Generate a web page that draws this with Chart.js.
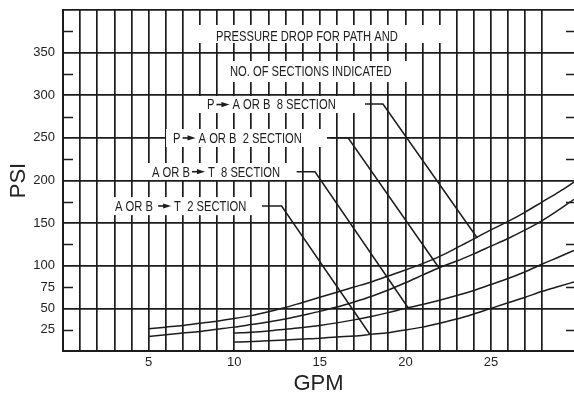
<!DOCTYPE html>
<html>
<head>
<meta charset="utf-8">
<script src="https://cdn.jsdelivr.net/npm/chart.js@4/dist/chart.umd.min.js"></script>
<style>
html, body { margin:0; padding:0; background:#fff; overflow:hidden; }
#wrap { width:574px; height:397px; }
</style>
</head>
<body>
<div id="wrap"><canvas id="mycanvas"></canvas></div>
<script>
// GPM values where the curves were read
var gpmP = [5,6,7,8,9,10,11,12,13,14,15,16,17,18,19,20,21,22,23,24,25,26,27,28,29,29.85];
var gpmT = [10,11,12,13,14,15,16,17,18,19,20,21,22,23,24,25,26,27,28,29,29.85];

// PSI for each path
var psiP8 = [26,28,30,32.5,35,38,41.5,46,51,57,63,69,75,81,88,95,102.5,111,121,131.5,142,152,163,175,187,198];
var psiP2 = [17,19,21,23,25.5,28,31,34,37.5,42,46.5,51.5,57.5,64,71.5,80,89,98,105.5,114,123,132,142,153,166,178];
var psiT8 = [21,22,23.5,25.5,27.5,30,33,36.5,40.5,45,50,54.5,59.5,65,71,78,85,93,102,110.5,118];
var psiT2 = [10.5,11,12,13,14,15,16.5,17.5,19.5,21.5,24.5,28,32.5,37.5,43.5,50,56.5,63,70,76,81];

// leader lines (GPM, PSI)
var lead1X = [17.64,18.69,24.2],  lead1Y = [289.7,289.7,132.5];
var lead2X = [15.6,16.65,21.96],  lead2Y = [250.2,250.2,97.6];
var lead3X = [13.65,14.72,20.15], lead3Y = [210.3,210.3,51];
var lead4X = [11.62,12.77,17.93], lead4Y = [170.1,170.1,19.4];

var yLabels = [25,50,75,100,150,200,250,300,350];
var xLabels = [5,10,15,20,25];

// text boxes: text anchor (gpm, psi) and white box [gpm0, gpm1, psiTop, psiBottom]
var notes = [
  {parts:["PRESSURE DROP FOR PATH AND"], at:[8.94,369.1], box:[7.54,22.43,382.4,361.3]},
  {parts:["NO. OF SECTIONS INDICATED"], at:[9.75,327.9], box:[9.29,20.5,340.2,315.5]},
  {parts:["P","A OR B  8 SECTION"], at:[8.41,289.1], box:[7.94,17.41,299.1,279.2]},
  {parts:["P","A OR B  2 SECTION"], at:[6.43,249.9], box:[6.02,15.42,260.4,239.3]},
  {parts:["A OR B","T  8 SECTION"], at:[5.2,210.3], box:[4.85,13.43,220.5,200.6]},
  {parts:["A OR B ","T  2 SECTION"], at:[3.04,170.1], box:[2.63,11.45,180.5,159.4]}
];

function pts(xs, ys) {
  return xs.map(function(x, i){ return {x:x, y:ys[i]}; });
}

var INK = '#1c1c1c';

function curve(xs, ys) {
  return {data: pts(xs, ys), showLine:true, borderColor:INK, borderWidth:1.5,
          pointRadius:0, cubicInterpolationMode:'monotone', fill:false};
}
function leader(xs, ys) {
  return {data: pts(xs, ys), showLine:true, borderColor:INK, borderWidth:1.5,
          pointRadius:0, tension:0, fill:false};
}

var extras = {
  id: 'extras',
  beforeDatasetsDraw: function(chart) {
    var ctx = chart.ctx, xs = chart.scales.x, ys = chart.scales.y, a = chart.chartArea;
    ctx.save();
    // short marks at the odd 25s, both sides
    ctx.strokeStyle = INK;
    ctx.lineWidth = 1.7;
    for (var v = 25; v < 400; v += 50) {
      var py = Math.round(ys.getPixelForValue(v)) + 0.5;
      ctx.beginPath();
      ctx.moveTo(a.left, py); ctx.lineTo(a.left + 10, py);
      ctx.moveTo(a.right - 8, py); ctx.lineTo(a.right, py);
      ctx.stroke();
    }
    // label boxes
    notes.forEach(function(n) {
      var x0 = xs.getPixelForValue(n.box[0]), x1 = xs.getPixelForValue(n.box[1]);
      var y0 = ys.getPixelForValue(n.box[2]), y1 = ys.getPixelForValue(n.box[3]);
      ctx.fillStyle = '#fff';
      ctx.fillRect(x0, y0, x1 - x0, y1 - y0);
      var tx = xs.getPixelForValue(n.at[0]), ty = ys.getPixelForValue(n.at[1]);
      ctx.fillStyle = INK;
      ctx.font = "14px 'Liberation Sans', Arial, sans-serif";
      ctx.textBaseline = 'middle';
      ctx.textAlign = 'left';
      var sx = 0.8;
      n.parts.forEach(function(p, i) {
        if (i > 0) {
          // arrow
          tx += 2;
          ctx.lineWidth = 1.6;
          ctx.beginPath(); ctx.moveTo(tx, ty); ctx.lineTo(tx + 7, ty); ctx.stroke();
          ctx.beginPath(); ctx.moveTo(tx + 5, ty - 2.6); ctx.lineTo(tx + 13, ty); ctx.lineTo(tx + 5, ty + 2.6);
          ctx.closePath(); ctx.fill();
          tx += 16;
        }
        ctx.save();
        ctx.translate(tx, ty);
        ctx.scale(sx, 1);
        ctx.fillText(p, 0, 1);
        ctx.restore();
        tx += ctx.measureText(p).width * sx;
      });
    });
    ctx.restore();
  }
};

Chart.defaults.font.family = "'Liberation Sans', Arial, sans-serif";
Chart.defaults.color = '#222';

var ctx = document.getElementById('mycanvas');
var chart = new Chart(ctx, {
  type: 'scatter',
  data: {
    datasets: [
      curve(gpmP, psiP8),
      curve(gpmP, psiP2),
      curve(gpmT, psiT8),
      curve(gpmT, psiT2),
      leader(lead1X, lead1Y),
      leader(lead2X, lead2Y),
      leader(lead3X, lead3Y),
      leader(lead4X, lead4Y)
    ]
  },
  options: {
    responsive: true,
    maintainAspectRatio: false,
    animation: false,
    devicePixelRatio: 1,
    layout: {padding: {top: 10, right: 0, left: 0, bottom: 0}},
    plugins: {legend: {display:false}, tooltip: {enabled:false}},
    scales: {
      x: {
        type: 'linear', min: 0, max: 29.85,
        ticks: {
          stepSize: 1, autoSkip: false, maxRotation: 0, padding: 4,
          font: {size: 13}, color: '#222',
          callback: function(v) { return xLabels.indexOf(v) >= 0 ? String(v) : ''; }
        },
        grid: {
          drawTicks: false, lineWidth: 1.7,
          color: function(c) { return Number.isInteger(c.tick.value) ? INK : 'rgba(0,0,0,0)'; }
        },
        border: {display: true, color: INK, width: 2},
        title: {display: true, text: 'GPM', font: {size: 22}, color: '#222', padding: {top: 0, bottom: 0}},
        afterFit: function(s) { s.height = 46; s.paddingLeft = 0; s.paddingRight = 0; }
      },
      y: {
        min: 0, max: 400,
        ticks: {
          stepSize: 25, autoSkip: false, padding: 8,
          font: {size: 13}, color: '#222',
          callback: function(v) { return yLabels.indexOf(v) >= 0 ? String(v) : ''; }
        },
        grid: {
          drawTicks: false, lineWidth: 1.7,
          color: function(c) { return c.tick.value % 50 === 0 ? INK : 'rgba(0,0,0,0)'; }
        },
        border: {display: true, color: INK, width: 2},
        title: {display: true, text: 'PSI', font: {size: 22}, color: '#222', padding: {top: 6, bottom: 0}},
        afterFit: function(s) { s.width = 63; s.paddingTop = 0; s.paddingBottom = 0; }
      }
    }
  },
  plugins: [extras]
});
</script>
</body>
</html>
